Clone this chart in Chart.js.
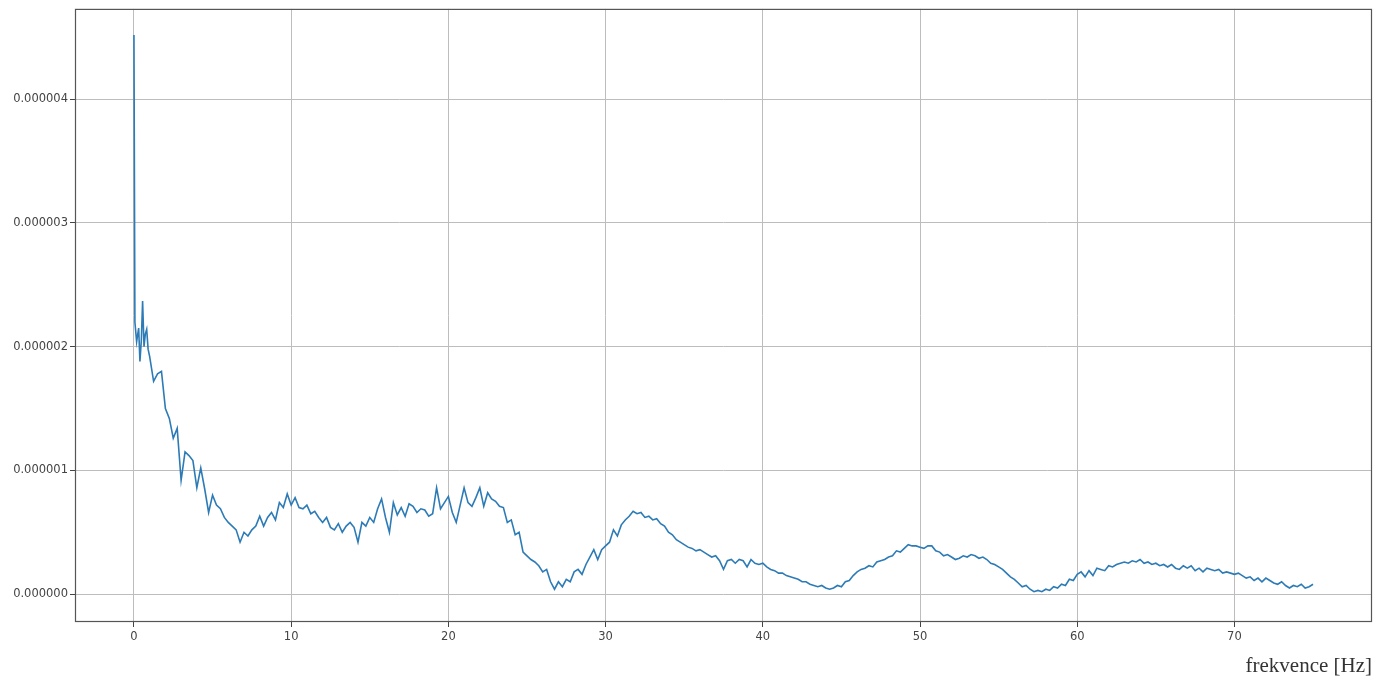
<!DOCTYPE html>
<html>
<head>
<meta charset="utf-8">
<title>frekvence</title>
<script src="https://cdn.jsdelivr.net/npm/chart.js@4.4.0/dist/chart.umd.min.js"></script>
<style>
  html, body { margin: 0; padding: 0; background: #fff; }
  #wrap { width: 1390px; height: 679px; position: relative; }
</style>
</head>
<body>
<div id="wrap"><canvas id="chart"></canvas></div>
<script>
// frequency axis [Hz]
const freqHz = [
  0, 0.06, 0.17, 0.3, 0.38, 0.47, 0.55, 0.64, 0.72, 0.81, 0.9, 1.0,
  1.25, 1.5, 1.75, 2.0, 2.25, 2.5, 2.75, 3.0, 3.25, 3.5, 3.75, 4.0, 4.25, 4.5, 4.75, 5.0,
  5.25, 5.5, 5.75, 6.0, 6.25, 6.5, 6.75, 7.0, 7.25, 7.5, 7.75, 8.0, 8.25, 8.5, 8.75, 9.0,
  9.25, 9.5, 9.75, 10.0, 10.25, 10.5, 10.75, 11.0, 11.25, 11.5, 11.75, 12.0, 12.25, 12.5, 12.75, 13.0,
  13.25, 13.5, 13.75, 14.0, 14.25, 14.5, 14.75, 15.0, 15.25, 15.5, 15.75, 16.0, 16.25, 16.5, 16.75, 17.0,
  17.25, 17.5, 17.75, 18.0, 18.25, 18.5, 18.75, 19.0, 19.25, 19.5, 19.75, 20.0, 20.25, 20.5, 20.75, 21.0,
  21.25, 21.5, 21.75, 22.0, 22.25, 22.5, 22.75, 23.0, 23.25, 23.5, 23.75, 24.0, 24.25, 24.5, 24.75, 25.0,
  25.25, 25.5, 25.75, 26.0, 26.25, 26.5, 26.75, 27.0, 27.25, 27.5, 27.75, 28.0, 28.25, 28.5, 28.75, 29.0,
  29.25, 29.5, 29.75, 30.0, 30.25, 30.5, 30.75, 31.0, 31.25, 31.5, 31.75, 32.0, 32.25, 32.5, 32.75, 33.0,
  33.25, 33.5, 33.75, 34.0, 34.25, 34.5, 34.75, 35.0, 35.25, 35.5, 35.75, 36.0, 36.25, 36.5, 36.75, 37.0,
  37.25, 37.5, 37.75, 38.0, 38.25, 38.5, 38.75, 39.0, 39.25, 39.5, 39.75, 40.0, 40.25, 40.5, 40.75, 41.0,
  41.25, 41.5, 41.75, 42.0, 42.25, 42.5, 42.75, 43.0, 43.25, 43.5, 43.75, 44.0, 44.25, 44.5, 44.75, 45.0,
  45.25, 45.5, 45.75, 46.0, 46.25, 46.5, 46.75, 47.0, 47.25, 47.5, 47.75, 48.0, 48.25, 48.5, 48.75, 49.0,
  49.25, 49.5, 49.75, 50.0, 50.25, 50.5, 50.75, 51.0, 51.25, 51.5, 51.75, 52.0, 52.25, 52.5, 52.75, 53.0,
  53.25, 53.5, 53.75, 54.0, 54.25, 54.5, 54.75, 55.0, 55.25, 55.5, 55.75, 56.0, 56.25, 56.5, 56.75, 57.0,
  57.25, 57.5, 57.75, 58.0, 58.25, 58.5, 58.75, 59.0, 59.25, 59.5, 59.75, 60.0, 60.25, 60.5, 60.75, 61.0,
  61.25, 61.5, 61.75, 62.0, 62.25, 62.5, 62.75, 63.0, 63.25, 63.5, 63.75, 64.0, 64.25, 64.5, 64.75, 65.0,
  65.25, 65.5, 65.75, 66.0, 66.25, 66.5, 66.75, 67.0, 67.25, 67.5, 67.75, 68.0, 68.25, 68.5, 68.75, 69.0,
  69.25, 69.5, 69.75, 70.0, 70.25, 70.5, 70.75, 71.0, 71.25, 71.5, 71.75, 72.0, 72.25, 72.5, 72.75, 73.0,
  73.25, 73.5, 73.75, 74.0, 74.25, 74.5, 74.75, 75.0
];

// spectrum values, in units of 1e-6
const psdMicro = [
  4.52, 2.20, 2.04, 2.15, 1.88, 2.05, 2.37, 2.00, 2.10, 2.14, 1.98, 1.92,
  1.72, 1.78, 1.80, 1.50, 1.42, 1.26, 1.34, 0.92, 1.15, 1.12, 1.08, 0.86, 1.02, 0.85, 0.66, 0.80,
  0.72, 0.69, 0.62, 0.58, 0.55, 0.52, 0.42, 0.50, 0.47, 0.52, 0.55, 0.63, 0.55, 0.62, 0.66, 0.60,
  0.74, 0.70, 0.81, 0.72, 0.78, 0.70, 0.69, 0.72, 0.65, 0.67, 0.62, 0.58, 0.62, 0.54, 0.52, 0.57,
  0.50, 0.55, 0.58, 0.54, 0.42, 0.58, 0.55, 0.62, 0.58, 0.69, 0.77, 0.62, 0.50, 0.74, 0.64, 0.70,
  0.63, 0.73, 0.71, 0.66, 0.69, 0.68, 0.63, 0.65, 0.86, 0.69, 0.74, 0.79, 0.66, 0.58, 0.72, 0.86,
  0.74, 0.71, 0.78, 0.86, 0.71, 0.82, 0.77, 0.75, 0.71, 0.70, 0.58, 0.60, 0.48, 0.50, 0.34, 0.31,
  0.28, 0.26, 0.23, 0.18, 0.20, 0.10, 0.04, 0.10, 0.06, 0.12, 0.10, 0.18, 0.20, 0.16, 0.24, 0.30,
  0.36, 0.28, 0.36, 0.39, 0.42, 0.52, 0.47, 0.56, 0.60, 0.63, 0.67, 0.65, 0.66, 0.62, 0.63, 0.60,
  0.61, 0.57, 0.55, 0.50, 0.48, 0.44, 0.42, 0.40, 0.38, 0.37, 0.35, 0.36, 0.34, 0.32, 0.30, 0.31,
  0.27, 0.20, 0.27, 0.28, 0.25, 0.28, 0.27, 0.22, 0.28, 0.25, 0.24, 0.25, 0.22, 0.20, 0.19, 0.17,
  0.17, 0.15, 0.14, 0.13, 0.12, 0.10, 0.10, 0.08, 0.07, 0.06, 0.07, 0.05, 0.04, 0.05, 0.07, 0.06,
  0.10, 0.11, 0.15, 0.18, 0.20, 0.21, 0.23, 0.22, 0.26, 0.27, 0.28, 0.30, 0.31, 0.35, 0.34, 0.37,
  0.40, 0.39, 0.39, 0.38, 0.37, 0.39, 0.39, 0.35, 0.34, 0.31, 0.32, 0.30, 0.28, 0.29, 0.31, 0.30,
  0.32, 0.31, 0.29, 0.30, 0.28, 0.25, 0.24, 0.22, 0.20, 0.17, 0.14, 0.12, 0.09, 0.06, 0.07, 0.04,
  0.02, 0.03, 0.02, 0.04, 0.03, 0.06, 0.05, 0.08, 0.07, 0.12, 0.11, 0.16, 0.18, 0.14, 0.19, 0.15,
  0.21, 0.20, 0.19, 0.23, 0.22, 0.24, 0.25, 0.26, 0.25, 0.27, 0.26, 0.28, 0.25, 0.26, 0.24, 0.25,
  0.23, 0.24, 0.22, 0.24, 0.21, 0.20, 0.23, 0.21, 0.23, 0.19, 0.21, 0.18, 0.21, 0.20, 0.19, 0.20,
  0.17, 0.18, 0.17, 0.16, 0.17, 0.15, 0.13, 0.14, 0.11, 0.13, 0.10, 0.13, 0.11, 0.09, 0.08, 0.10,
  0.07, 0.05, 0.07, 0.06, 0.08, 0.05, 0.06, 0.08
];

const xTicks = [0, 10, 20, 30, 40, 50, 60, 70];
const yTicks = [0, 1, 2, 3, 4];
const xTitle = 'frekvence [Hz]';

// matplotlib-like frame on all four sides
const frame = {
  id: 'frame',
  afterDraw(chart) {
    const { ctx, chartArea: a } = chart;
    ctx.save();
    ctx.strokeStyle = '#555';
    ctx.lineWidth = 1.2;
    ctx.strokeRect(a.left + 0.5, a.top + 0.5, a.right - a.left - 1, a.bottom - a.top - 1);
    ctx.restore();
  }
};

const tickFont = { family: 'DejaVu Sans', size: 11.5 };

new Chart(document.getElementById('chart'), {
  type: 'line',
  data: {
    datasets: [{
      data: freqHz.map((f, i) => ({ x: f, y: psdMicro[i] })),
      borderColor: '#2c7bb6',
      borderWidth: 1.6,
      pointRadius: 0,
      tension: 0,
      fill: false
    }]
  },
  options: {
    responsive: true,
    maintainAspectRatio: false,
    animation: false,
    layout: { padding: { top: 8, right: 18, left: 0, bottom: 0 } },
    plugins: { legend: { display: false }, tooltip: { enabled: false } },
    scales: {
      x: {
        type: 'linear',
        min: -3.75,
        max: 78.75,
        afterFit: s => { s.height = 57; },
        afterBuildTicks: s => { s.ticks = xTicks.map(v => ({ value: v })); },
        grid: { color: '#bdbdbd', lineWidth: 1, tickColor: '#444', tickLength: 5 },
        border: { display: false },
        ticks: { font: tickFont, color: '#444', padding: 3, maxRotation: 0, callback: v => String(v) },
        title: {
          display: true,
          text: xTitle,
          align: 'end',
          color: '#333',
          font: { family: 'Liberation Serif', size: 21 },
          padding: { top: 0, bottom: 0 }
        }
      },
      y: {
        type: 'linear',
        min: -0.225,
        max: 4.73,
        afterFit: s => { s.width = 75; },
        afterBuildTicks: s => { s.ticks = yTicks.map(v => ({ value: v })); },
        grid: { color: '#bdbdbd', lineWidth: 1, tickColor: '#444', tickLength: 5 },
        border: { display: false },
        ticks: { font: tickFont, color: '#444', padding: 2, callback: v => (v * 1e-6).toFixed(6) }
      }
    }
  },
  plugins: [frame]
});
</script>
</body>
</html>
